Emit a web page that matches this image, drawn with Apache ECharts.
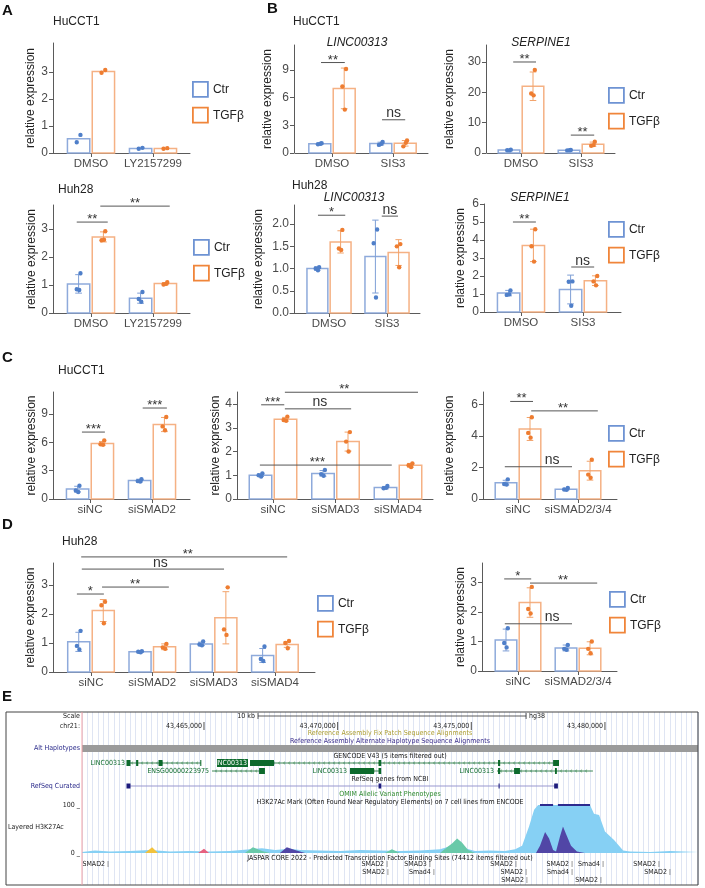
<!DOCTYPE html>
<html><head><meta charset="utf-8">
<script src="https://cdn.jsdelivr.net/npm/echarts@6/dist/echarts.min.js"></script>
<style>html,body{margin:0;padding:0;background:#fff}#c{width:705px;height:888px}</style>
</head><body><div id="c"></div><script>
// ================= DATA =================
// A – HuCCT1
const A1_cats = ['DMSO', 'LY2157299'];
const A1_ctr_mean = [0.53, 0.17];
const A1_ctr_sd = [0, 0];
const A1_ctr_pts = [[0.67, 0.40], [0.19, 0.16]];
const A1_tgf_mean = [3.02, 0.17];
const A1_tgf_sd = [0, 0];
const A1_tgf_pts = [[3.07, 2.97], [0.18, 0.16]];
const A1_ticks = [0, 1, 2, 3];
const A1_sig = [];
// A – Huh28
const A2_cats = ['DMSO', 'LY2157299'];
const A2_ctr_mean = [1.04, 0.53];
const A2_ctr_sd = [0.33, 0.18];
const A2_ctr_pts = [[1.42, 0.85, 0.82], [0.75, 0.50, 0.40]];
const A2_tgf_mean = [2.72, 1.05];
const A2_tgf_sd = [0.18, 0.04];
const A2_tgf_pts = [[2.92, 2.60, 2.62], [1.10, 1.02, 1.04]];
const A2_ticks = [0, 1, 2, 3];
const A2_sig = [[-0.23, 0.27, 3.25, '**'], [0.15, 1.27, 3.82, '**']];
// B – HuCCT1 LINC00313
const B1_cats = ['DMSO', 'SIS3'];
const B1_ctr_mean = [1.0, 1.02];
const B1_ctr_sd = [0.06, 0.15];
const B1_ctr_pts = [[1.05, 0.95, 1.0], [1.2, 0.88, 1.0]];
const B1_tgf_mean = [7.0, 1.05];
const B1_tgf_sd = [2.2, 0.3];
const B1_tgf_pts = [[9.1, 7.2, 4.7], [1.35, 0.72, 1.1]];
const B1_ticks = [0, 3, 6, 9];
const B1_sig = [[-0.18, 0.21, 9.8, '**'], [0.82, 1.2, 3.6, 'ns']];
// B – HuCCT1 SERPINE1
const B2_cats = ['DMSO', 'SIS3'];
const B2_ctr_mean = [0.95, 0.9];
const B2_ctr_sd = [0.15, 0.1];
const B2_ctr_pts = [[1.1, 0.9, 0.85], [1.0, 0.85, 0.9]];
const B2_tgf_mean = [22.0, 2.9];
const B2_tgf_sd = [4.7, 0.7];
const B2_tgf_pts = [[27.4, 19.6, 19.0], [3.7, 2.4, 2.6]];
const B2_ticks = [0, 10, 20, 30];
const B2_sig = [[-0.13, 0.25, 30, '**'], [0.83, 1.22, 5.9, '**']];
// B – Huh28 LINC00313
const B3_cats = ['DMSO', 'SIS3'];
const B3_ctr_mean = [1.0, 1.27];
const B3_ctr_sd = [0.04, 0.82];
const B3_ctr_pts = [[1.03, 1.0, 0.96], [1.88, 1.57, 0.35]];
const B3_tgf_mean = [1.6, 1.36];
const B3_tgf_sd = [0.25, 0.29];
const B3_tgf_pts = [[1.87, 1.45, 1.42], [1.55, 1.5, 1.03]];
const B3_ticks = [0, 0.5, 1, 1.5, 2];
const B3_sig = [[-0.19, 0.28, 2.2, '*'], [0.91, 1.19, 2.18, 'ns']];
// B – Huh28 SERPINE1
const B4_cats = ['DMSO', 'SIS3'];
const B4_ctr_mean = [1.05, 1.25];
const B4_ctr_sd = [0.15, 0.8];
const B4_ctr_pts = [[1.2, 0.95, 0.98], [1.7, 1.68, 0.35]];
const B4_tgf_mean = [3.7, 1.74];
const B4_tgf_sd = [0.9, 0.27];
const B4_tgf_pts = [[4.6, 3.65, 2.8], [2.0, 1.7, 1.48]];
const B4_ticks = [0, 1, 2, 3, 4, 5, 6];
const B4_sig = [[-0.13, 0.24, 5.0, '**'], [0.81, 1.18, 2.5, 'ns']];
// C – HuCCT1 siSMAD2
const C1_cats = ['siNC', 'siSMAD2'];
const C1_ctr_mean = [1.05, 1.95];
const C1_ctr_sd = [0.3, 0.15];
const C1_ctr_pts = [[1.4, 0.9, 0.75], [2.1, 1.9, 1.85]];
const C1_tgf_mean = [5.9, 7.9];
const C1_tgf_sd = [0.2, 0.75];
const C1_tgf_pts = [[6.2, 5.8, 5.75], [8.7, 7.7, 7.3]];
const C1_ticks = [0, 3, 6, 9];
const C1_sig = [[-0.13, 0.24, 7.1, '***'], [0.85, 1.24, 9.65, '***']];
// C – HuCCT1 siSMAD3 / siSMAD4
const C2_cats = ['siNC', 'siSMAD3', 'siSMAD4'];
const C2_ctr_mean = [1.0, 1.08, 0.48];
const C2_ctr_sd = [0.05, 0.12, 0.05];
const C2_ctr_pts = [[1.08, 1.0, 0.95], [1.22, 1.05, 0.98], [0.55, 0.45, 0.47]];
const C2_tgf_mean = [3.36, 2.42, 1.42];
const C2_tgf_sd = [0.08, 0.4, 0.08];
const C2_tgf_pts = [[3.47, 3.33, 3.3], [2.82, 2.42, 2.0], [1.5, 1.42, 1.35]];
const C2_ticks = [0, 1, 2, 3, 4];
const C2_sig = [[-0.19, 0.18, 3.97, '***'], [0.19, 2.32, 4.5, '**', 1.14], [0.19, 1.25, 3.8, 'ns', 0.75], [-0.21, 1.9, 1.43, '***', 0.71]];
// C – HuCCT1 siSMAD2/3/4
const C3_cats = ['siNC', 'siSMAD2/3/4'];
const C3_ctr_mean = [1.04, 0.62];
const C3_ctr_sd = [0.15, 0.06];
const C3_ctr_pts = [[1.25, 0.95, 0.92], [0.7, 0.6, 0.58]];
const C3_tgf_mean = [4.45, 1.8];
const C3_tgf_sd = [0.73, 0.6];
const C3_tgf_pts = [[5.2, 4.2, 3.9], [2.5, 1.55, 1.35]];
const C3_ticks = [0, 2, 4, 6];
const C3_sig = [[-0.13, 0.25, 6.2, '**'], [0.22, 1.33, 5.6, '**', 0.75], [-0.22, 0.9, 2.05, 'ns', 0.57]];
// D – Huh28 single siRNAs
const D1_cats = ['siNC', 'siSMAD2', 'siSMAD3', 'siSMAD4'];
const D1_ctr_mean = [1.04, 0.7, 0.97, 0.57];
const D1_ctr_sd = [0.33, 0.02, 0.06, 0.24];
const D1_ctr_pts = [[1.42, 0.9, 0.78], [0.72, 0.7, 0.68], [1.05, 0.95, 0.92], [0.88, 0.45, 0.38]];
const D1_tgf_mean = [2.12, 0.87, 1.87, 0.95];
const D1_tgf_sd = [0.38, 0.1, 0.9, 0.1];
const D1_tgf_pts = [[2.42, 2.3, 1.68], [0.97, 0.85, 0.8], [2.92, 1.47, 1.28], [1.07, 1.0, 0.82]];
const D1_ticks = [0, 1, 2, 3];
const D1_sig = [[-0.23, 0.21, 2.69, '*'], [0.18, 1.27, 2.93, '**', 0.72], [-0.15, 2.17, 3.55, 'ns', 1.13], [-0.16, 3.2, 3.97, '**', 1.58]];
// D – Huh28 siSMAD2/3/4
const D2_cats = ['siNC', 'siSMAD2/3/4'];
const D2_ctr_mean = [1.05, 0.78];
const D2_ctr_sd = [0.37, 0.1];
const D2_ctr_pts = [[1.45, 0.95, 0.8], [0.88, 0.75, 0.72]];
const D2_tgf_mean = [2.32, 0.77];
const D2_tgf_sd = [0.5, 0.22];
const D2_tgf_pts = [[2.85, 2.1, 1.95], [1.0, 0.75, 0.6]];
const D2_ticks = [0, 1, 2, 3];
const D2_sig = [[-0.23, 0.22, 3.12, '*'], [0.2, 1.32, 2.98, '**', 0.75], [-0.22, 0.9, 1.6, 'ns', 0.57]];

// E – genome browser (positions in kb after chr21:43,460,000)
const E_VIEW = [0.436, 23.481];
const E_POS_TICKS = [5, 10, 15, 20];
const E_POS_LABELS = ['43,465,000', '43,470,000', '43,475,000', '43,480,000'];
const E_SCALEBAR = [[7.02, 17.05]];
const E_GENES = [
  {name: 'LINC00313', row: 0, start: 2.157, end: 4.888, thick: null, exons: [[2.10, 2.25], [2.46, 2.54], [3.30, 3.45], [4.86, 4.90]], hl: false},
  {name: 'LINC00313', row: 0, start: 6.72, end: 18.17, thick: [6.72, 7.62], exons: [[11.53, 11.63], [16.00, 16.08], [18.06, 18.28]], hl: true},
  {name: 'ENSG00000223975', row: 1, start: 5.30, end: 7.17, thick: null, exons: [[7.06, 7.28]], hl: false},
  {name: 'LINC00313', row: 1, start: 10.46, end: 11.58, thick: [10.46, 11.36], exons: [[11.53, 11.63]], hl: false},
  {name: 'LINC00313', row: 1, start: 15.96, end: 19.55, thick: null, exons: [[16.00, 16.08], [16.60, 16.82], [18.13, 18.20]], hl: false}
];
const E_REFSEQ = [{start: 2.157, end: 18.17, exons: [[2.10, 2.25], [11.53, 11.63], [16.02, 16.06], [18.10, 18.24]]}];
const E_H3K_BLUE = [[0.436,2],[0.92,5],[1.48,3],[2.23,4],[2.98,6],[3.73,3],[4.48,4],[5.22,3],[5.97,4],[6.72,8],[7.17,10],[7.66,6],[8.22,9],[8.59,6],[9.34,5],[10.09,4],[10.84,6],[11.58,5],[12.33,4],[13.08,5],[13.83,8],[14.2,14],[14.47,18],[14.76,10],[15.14,4],[15.7,5],[16.26,4],[16.64,8],[16.9,15],[17.16,55],[17.35,90],[17.5,100],[18.1,100],[18.17,97],[18.24,100],[19.44,100],[19.59,82],[19.78,79],[20.0,45],[20.34,27],[20.68,5],[20.94,3],[21.69,2],[22.43,4],[23.48,2]];
const E_H3K_TEAL = [[0.436,0],[6.53,0],[6.83,12],[7.17,4],[7.47,0],[11.77,0],[12.03,8],[12.33,0],[13.83,0],[14.09,12],[14.28,20],[14.47,30],[14.65,22],[14.88,6],[15.14,0],[23.48,0]];
const E_H3K_PURPLE = [[0.436,0],[7.84,0],[8.1,12],[8.4,6],[8.78,0],[17.42,0],[17.57,15],[17.76,44],[17.91,30],[18.06,6],[18.17,3],[18.32,35],[18.43,55],[18.54,40],[18.73,15],[18.95,3],[19.25,0],[23.48,0]];
const E_H3K_YELLOW = [[0.436,0],[2.79,0],[3.06,12],[3.28,0],[23.48,0]];
const E_H3K_PINK = [[0.436,0],[4.78,0],[5.0,9],[5.19,0],[23.48,0]];
const E_H3K_SATURATED = [[17.57, 18.06], [18.24, 19.44]];
const E_JASPAR = [
  [1.41, 0, 'SMAD2'], [11.85, 0, 'SMAD2'], [13.45, 0, 'SMAD3'], [16.67, 0, 'SMAD2'], [18.77, 0, 'SMAD2'], [19.93, 0, 'Smad4'], [22.02, 0, 'SMAD2'],
  [11.88, 1, 'SMAD2'], [13.6, 1, 'Smad4'], [17.05, 1, 'SMAD2'], [18.77, 1, 'Smad4'], [22.43, 1, 'SMAD2'],
  [17.08, 2, 'SMAD2'], [19.85, 2, 'SMAD2']
];

// ================= STYLE / LAYOUT =================
const FONT = "'Liberation Sans', Arial, Helvetica, sans-serif";
const NARROW = "'Liberation Sans Narrow', 'DejaVu Sans Condensed', 'Liberation Sans', sans-serif";
const AXIS = '#5a5a5a', LABEL = '#4a4a4a';
const C_BAR = '#8eaadb', T_BAR = '#f5b184';
const C_DOT = '#4f7fc9', T_DOT = '#ee7d31';
const C_ERR = '#7f9fd6', T_ERR = '#f2a36b';
const C_LEG = '#6e93d3', T_LEG = '#f0853a';
const JIT = [0.03, -0.03, 0.01];

const LAYOUT = {
  A1: {x0: 50, x1: 190, c0: 91, band: 62, yx: 53, top: 43, y0: 153, ymax: 4.07, nameDist: 22},
  A2: {x0: 50, x1: 190, c0: 91, band: 62, yx: 53, top: 205, y0: 313, ymax: 3.86, nameDist: 21},
  B1: {x0: 295, x1: 428, c0: 332, band: 61, yx: 294, top: 45, y0: 153, ymax: 11.7, nameDist: 26.5},
  B2: {x0: 487, x1: 615, c0: 521, band: 60, yx: 486, top: 45, y0: 153, ymax: 35.6, nameDist: 36},
  B3: {x0: 290, x1: 420, c0: 329, band: 58, yx: 294, top: 205, y0: 313, ymax: 2.43, nameDist: 35},
  B4: {x0: 482, x1: 621, c0: 521, band: 62, yx: 484, top: 204, y0: 312, ymax: 6.0, nameDist: 23},
  C1: {x0: 50, x1: 190, c0: 90, band: 62, yx: 53, top: 392, y0: 499, ymax: 11.35, nameDist: 21.5},
  C2: {x0: 235, x1: 433, c0: 273, band: 62.5, yx: 237, top: 392, y0: 499, ymax: 4.51, nameDist: 21.5},
  C3: {x0: 482, x1: 617, c0: 518, band: 60, yx: 483, top: 392, y0: 499, ymax: 6.8, nameDist: 33},
  D1: {x0: 50, x1: 315, c0: 91, band: 61.3, yx: 53, top: 563, y0: 672, ymax: 3.76, nameDist: 22},
  D2: {x0: 482, x1: 617, c0: 518, band: 60, yx: 482, top: 563, y0: 671, ymax: 3.66, nameDist: 19.5}
};

const grids = [], xAxes = [], yAxes = [], series = [], legends = [], graphics = [];

function groupSeries(name, side, gi, cats, mean, sd, pts, barC, errC, dotC) {
  const data = cats.map((c, i) => {
    const p = pts[i].slice(); while (p.length < 3) p.push(null);
    return [i, mean[i], sd[i] || 0].concat(p);
  });
  return {
    type: 'custom', name: name, xAxisIndex: gi, yAxisIndex: gi, data: data, z: 3, silent: true,
    encode: {x: 0, y: 1},
    renderItem: function (params, api) {
      const i = api.value(0), m = api.value(1), s = api.value(2);
      const band = api.size([1, 0])[0];
      const base = api.coord([i, 0]), top = api.coord([i, m]);
      const cx = base[0] + side * 0.2 * band, w = 0.36 * band;
      const ch = [{type: 'rect', shape: {x: cx - w / 2, y: top[1], width: w, height: base[1] - top[1]},
        style: {fill: 'rgba(255,255,255,0)', stroke: barC, lineWidth: 1.5}}];
      if (s > 0) {
        const hi = api.coord([i, m + s])[1], lo = api.coord([i, Math.max(m - s, 0)])[1], cw = 0.055 * band;
        ch.push({type: 'line', shape: {x1: cx, y1: hi, x2: cx, y2: lo}, style: {stroke: errC, lineWidth: 1}});
        ch.push({type: 'line', shape: {x1: cx - cw, y1: hi, x2: cx + cw, y2: hi}, style: {stroke: errC, lineWidth: 1}});
        ch.push({type: 'line', shape: {x1: cx - cw, y1: lo, x2: cx + cw, y2: lo}, style: {stroke: errC, lineWidth: 1}});
      }
      for (let k = 0; k < 3; k++) {
        const v = api.value(3 + k);
        if (v === null || v === undefined || isNaN(v)) continue;
        const py = api.coord([i, v])[1];
        ch.push({type: 'circle', shape: {cx: cx + JIT[k] * band, cy: py, r: 2.2}, style: {fill: dotC}});
      }
      return {type: 'group', children: ch};
    }
  };
}

function sigSeries(gi, sig) {
  return {
    type: 'custom', xAxisIndex: gi, yAxisIndex: gi, z: 4, silent: true,
    data: sig.map(s => [s[0], s[1], s[2], s[4] != null ? s[4] : (s[0] + s[1]) / 2]),
    renderItem: function (params, api) {
      const lab = sig[params.dataIndex][3];
      const p1 = api.coord([api.value(0), api.value(2)]), p2 = api.coord([api.value(1), api.value(2)]);
      const tx = api.coord([api.value(3), api.value(2)])[0];
      const star = lab !== 'ns';
      const ty = star ? p1[1] - 2.6 : p1[1] - 6.3;
      return {type: 'group', children: [
        {type: 'line', shape: {x1: p1[0], y1: p1[1], x2: p2[0], y2: p1[1]}, style: {stroke: '#555', lineWidth: 1}},
        {type: 'text', style: {x: tx, y: ty, text: lab, align: 'center', textAlign: 'center', verticalAlign: 'middle', textVerticalAlign: 'middle',
          fontSize: star ? 13 : 14, fontFamily: FONT, fill: '#333'}}
      ]};
    }
  };
}

function addPanel(key, cats, cm, csd, cp, tm, tsd, tp, ticks, sig, fmt) {
  const L = LAYOUT[key];
  const gi = grids.length;
  const idx = cats.map((c, i) => i);
  grids.push({left: L.x0, top: L.top, width: L.x1 - L.x0, height: L.y0 - L.top});
  xAxes.push({gridIndex: gi, type: 'value', min: -(L.c0 - L.x0) / L.band, max: (L.x1 - L.c0) / L.band,
    splitLine: {show: false},
    axisLine: {show: true, onZero: false, lineStyle: {color: AXIS, width: 1}},
    axisTick: {show: true, customValues: idx, length: 4, lineStyle: {color: AXIS}},
    axisLabel: {show: true, customValues: idx, formatter: v => cats[Math.round(v)], fontSize: 11.5, color: LABEL, margin: 5, fontFamily: FONT}});
  yAxes.push({gridIndex: gi, type: 'value', min: 0, max: L.ymax, offset: L.x0 - L.yx,
    splitLine: {show: false},
    axisLine: {show: true, onZero: false, lineStyle: {color: AXIS, width: 1}},
    axisTick: {show: true, customValues: ticks, length: 4, lineStyle: {color: AXIS}},
    axisLabel: {show: true, customValues: ticks, formatter: fmt || (v => String(v)), fontSize: 12, color: LABEL, margin: 5, fontFamily: FONT},
    name: 'relative expression', nameLocation: 'middle', nameRotate: 90, nameGap: L.nameDist - 6,
    nameTextStyle: {fontSize: 12, color: '#222', fontFamily: FONT}});
  series.push(groupSeries('Ctr', -1, gi, cats, cm, csd, cp, C_BAR, C_ERR, C_DOT));
  series.push(groupSeries('TGFβ', 1, gi, cats, tm, tsd, tp, T_BAR, T_ERR, T_DOT));
  if (sig.length) series.push(sigSeries(gi, sig));
}

addPanel('A1', A1_cats, A1_ctr_mean, A1_ctr_sd, A1_ctr_pts, A1_tgf_mean, A1_tgf_sd, A1_tgf_pts, A1_ticks, A1_sig);
addPanel('A2', A2_cats, A2_ctr_mean, A2_ctr_sd, A2_ctr_pts, A2_tgf_mean, A2_tgf_sd, A2_tgf_pts, A2_ticks, A2_sig);
addPanel('B1', B1_cats, B1_ctr_mean, B1_ctr_sd, B1_ctr_pts, B1_tgf_mean, B1_tgf_sd, B1_tgf_pts, B1_ticks, B1_sig);
addPanel('B2', B2_cats, B2_ctr_mean, B2_ctr_sd, B2_ctr_pts, B2_tgf_mean, B2_tgf_sd, B2_tgf_pts, B2_ticks, B2_sig);
addPanel('B3', B3_cats, B3_ctr_mean, B3_ctr_sd, B3_ctr_pts, B3_tgf_mean, B3_tgf_sd, B3_tgf_pts, B3_ticks, B3_sig, v => v.toFixed(1));
addPanel('B4', B4_cats, B4_ctr_mean, B4_ctr_sd, B4_ctr_pts, B4_tgf_mean, B4_tgf_sd, B4_tgf_pts, B4_ticks, B4_sig);
addPanel('C1', C1_cats, C1_ctr_mean, C1_ctr_sd, C1_ctr_pts, C1_tgf_mean, C1_tgf_sd, C1_tgf_pts, C1_ticks, C1_sig);
addPanel('C2', C2_cats, C2_ctr_mean, C2_ctr_sd, C2_ctr_pts, C2_tgf_mean, C2_tgf_sd, C2_tgf_pts, C2_ticks, C2_sig);
addPanel('C3', C3_cats, C3_ctr_mean, C3_ctr_sd, C3_ctr_pts, C3_tgf_mean, C3_tgf_sd, C3_tgf_pts, C3_ticks, C3_sig);
addPanel('D1', D1_cats, D1_ctr_mean, D1_ctr_sd, D1_ctr_pts, D1_tgf_mean, D1_tgf_sd, D1_tgf_pts, D1_ticks, D1_sig);
addPanel('D2', D2_cats, D2_ctr_mean, D2_ctr_sd, D2_ctr_pts, D2_tgf_mean, D2_tgf_sd, D2_tgf_pts, D2_ticks, D2_sig);

// legends
[[192, 81], [193, 239], [608, 87], [608, 221], [608, 425], [317, 595], [609, 591]].forEach(p => {
  legends.push({left: p[0], top: p[1], orient: 'vertical', itemWidth: 15, itemHeight: 15, itemGap: 9, padding: 0,
    selectedMode: false, icon: 'rect', textStyle: {fontSize: 12, color: '#222', fontFamily: FONT},
    data: [{name: 'Ctr', icon: 'rect', itemStyle: {color: '#fff', borderColor: C_LEG, borderWidth: 1.8}},
           {name: 'TGFβ', icon: 'rect', itemStyle: {color: '#fff', borderColor: T_LEG, borderWidth: 1.8}}]});
});

// text helpers
function txt(x, y, text, o) {
  o = o || {};
  graphics.push({type: 'text', x: x, y: y, silent: true, z: 10, style: {text: text,
    fontSize: o.size || 12, fontFamily: o.family || FONT, fontWeight: o.weight || 'normal', fontStyle: o.style || 'normal',
    fill: o.color || '#222', align: o.align || 'left', textAlign: o.align || 'left', verticalAlign: 'middle', textVerticalAlign: 'middle'}});
}
// panel letters & titles
txt(2, 11, 'A', {size: 15, weight: 'bold', color: '#111'});
txt(267, 9, 'B', {size: 15, weight: 'bold', color: '#111'});
txt(2, 358, 'C', {size: 15, weight: 'bold', color: '#111'});
txt(2, 525, 'D', {size: 15, weight: 'bold', color: '#111'});
txt(2, 697, 'E', {size: 15, weight: 'bold', color: '#111'});
txt(53, 22, 'HuCCT1');
txt(58, 190, 'Huh28');
txt(293, 22, 'HuCCT1');
txt(292, 186, 'Huh28');
txt(357, 43, 'LINC00313', {style: 'italic', align: 'center'});
txt(541, 43, 'SERPINE1', {style: 'italic', align: 'center'});
txt(354, 198, 'LINC00313', {style: 'italic', align: 'center'});
txt(540, 198, 'SERPINE1', {style: 'italic', align: 'center'});
txt(58, 371, 'HuCCT1');
txt(62, 542, 'Huh28');

// ================= PANEL E =================
const EB = {left: 6, top: 712, right: 698, bottom: 885, data: 82};
const E_ROW = {scale: 716, coord: 726, fix: 733, alt: 741, altBar: [745, 752], gencode: 756, gene: [763, 771], ncbi: 779,
  refseq: 786, omim: 794, h3k: 802, sigTop: 805, sigBottom: 853, jas: 858, jasRows: [864, 872, 880]};
const gE = grids.length;
grids.push({left: EB.data, top: EB.top, width: EB.right - EB.data, height: EB.bottom - EB.top});
xAxes.push({gridIndex: gE, type: 'value', min: E_VIEW[0], max: E_VIEW[1], interval: 0.2,
  axisLine: {show: false}, axisTick: {show: false}, axisLabel: {show: false},
  splitLine: {show: true, lineStyle: {color: '#dfe5f3', width: 1}}});
yAxes.push({gridIndex: gE, type: 'value', min: 0, max: 1, show: false});
const gS = grids.length;
grids.push({left: EB.data, top: E_ROW.sigTop, width: EB.right - EB.data, height: E_ROW.sigBottom - E_ROW.sigTop});
xAxes.push({gridIndex: gS, type: 'value', min: E_VIEW[0], max: E_VIEW[1], show: false, splitLine: {show: false}});
yAxes.push({gridIndex: gS, type: 'value', min: 0, max: 100, show: false, splitLine: {show: false}});

const ES = {fontSize: 7, fontFamily: NARROW};
function eText(x, y, text, align, color) {
  return {type: 'text', style: {x: x, y: y, text: text, align: align, textAlign: align, verticalAlign: 'middle', textVerticalAlign: 'middle',
    fontSize: ES.fontSize, fontFamily: ES.fontFamily, fill: color || '#222'}};
}
// coordinate ticks
series.push({type: 'custom', xAxisIndex: gE, yAxisIndex: gE, silent: true, z: 5, data: E_POS_TICKS.map(v => [v]),
  renderItem: (params, api) => {
    const x = api.coord([api.value(0), 0])[0];
    return {type: 'group', children: [
      {type: 'line', shape: {x1: x, y1: E_ROW.coord - 4, x2: x, y2: E_ROW.coord + 4}, style: {stroke: '#222', lineWidth: 0.8}},
      eText(x - 2, E_ROW.coord, E_POS_LABELS[params.dataIndex], 'right')]};
  }});
// scale bar
series.push({type: 'custom', xAxisIndex: gE, yAxisIndex: gE, silent: true, z: 5, data: E_SCALEBAR,
  renderItem: (params, api) => {
    const a = api.coord([api.value(0), 0])[0], b = api.coord([api.value(1), 0])[0], y = E_ROW.scale;
    return {type: 'group', children: [
      {type: 'line', shape: {x1: a, y1: y, x2: b, y2: y}, style: {stroke: '#333', lineWidth: 0.8}},
      {type: 'line', shape: {x1: a, y1: y - 3, x2: a, y2: y + 3}, style: {stroke: '#333', lineWidth: 0.8}},
      {type: 'line', shape: {x1: b, y1: y - 3, x2: b, y2: y + 3}, style: {stroke: '#333', lineWidth: 0.8}},
      eText(a - 3, y, '10 kb', 'right'), eText(b + 3, y, 'hg38', 'left')]};
  }});
// alt haplotype bar
series.push({type: 'custom', xAxisIndex: gE, yAxisIndex: gE, silent: true, z: 5, data: [[E_VIEW[0], E_VIEW[1]]],
  renderItem: (params, api) => {
    const a = api.coord([api.value(0), 0])[0], b = api.coord([api.value(1), 0])[0];
    return {type: 'rect', shape: {x: a, y: E_ROW.altBar[0], width: b - a, height: E_ROW.altBar[1] - E_ROW.altBar[0]}, style: {fill: '#9b9b9b'}};
  }});
// genes
const GREEN = '#0d6a2c';
series.push({type: 'custom', xAxisIndex: gE, yAxisIndex: gE, silent: true, z: 5, data: E_GENES.map(g => [g.start, g.end]),
  renderItem: (params, api) => {
    const g = E_GENES[params.dataIndex];
    const y = E_ROW.gene[g.row];
    const X = v => api.coord([v, 0])[0];
    const xs = X(g.start), xe = X(g.end);
    const ch = [{type: 'line', shape: {x1: xs, y1: y, x2: xe, y2: y}, style: {stroke: GREEN, lineWidth: 0.8}}];
    for (let x = xs + 4; x < xe - 3; x += 5) {
      ch.push({type: 'polyline', shape: {points: [[x + 1.1, y - 1.4], [x - 0.5, y], [x + 1.1, y + 1.4]]}, style: {stroke: GREEN, lineWidth: 0.5, fill: 'none'}});
    }
    if (g.thick) ch.push({type: 'rect', shape: {x: X(g.thick[0]), y: y - 3, width: X(g.thick[1]) - X(g.thick[0]), height: 6}, style: {fill: GREEN}});
    g.exons.forEach(e => { const a = X(e[0]), b = X(e[1]); ch.push({type: 'rect', shape: {x: a, y: y - 3, width: Math.max(b - a, 1), height: 6}, style: {fill: GREEN}}); });
    if (g.hl) {
      ch.push({type: 'rect', shape: {x: xs - 33, y: y - 4, width: 31, height: 8}, style: {fill: GREEN}});
      ch.push(eText(xs - 3, y, g.name, 'right', '#ffffff'));
    } else {
      ch.push(eText(xs - 3, y, g.name, 'right', GREEN));
    }
    return {type: 'group', children: ch};
  }});
// refseq
series.push({type: 'custom', xAxisIndex: gE, yAxisIndex: gE, silent: true, z: 5, data: E_REFSEQ.map(g => [g.start, g.end]),
  renderItem: (params, api) => {
    const g = E_REFSEQ[params.dataIndex];
    const y = E_ROW.refseq, X = v => api.coord([v, 0])[0];
    const ch = [{type: 'line', shape: {x1: X(g.start), y1: y, x2: X(g.end), y2: y}, style: {stroke: '#9a98cf', lineWidth: 1.2}}];
    g.exons.forEach(e => { const a = X(e[0]), b = X(e[1]); ch.push({type: 'rect', shape: {x: a, y: y - 2.5, width: Math.max(b - a, 1), height: 5}, style: {fill: '#1d1b7c'}}); });
    return {type: 'group', children: ch};
  }});
// H3K27Ac layers
function layer(data, color, z) {
  return {type: 'line', xAxisIndex: gS, yAxisIndex: gS, data: data, showSymbol: false, symbol: 'none', silent: true, z: z,
    lineStyle: {width: 0}, areaStyle: {color: color, opacity: 1}};
}
series.push(layer(E_H3K_BLUE, '#86d0f4', 5));
series.push(layer(E_H3K_TEAL, '#69c9a9', 6));
series.push(layer(E_H3K_YELLOW, '#f2c23c', 6));
series.push(layer(E_H3K_PINK, '#e7617f', 6));
series.push(layer(E_H3K_PURPLE, '#5146a6', 7));
series.push({type: 'custom', xAxisIndex: gS, yAxisIndex: gS, silent: true, z: 8, data: E_H3K_SATURATED,
  renderItem: (params, api) => {
    const a = api.coord([api.value(0), 100]), b = api.coord([api.value(1), 100]);
    return {type: 'line', shape: {x1: a[0], y1: a[1], x2: b[0], y2: b[1]}, style: {stroke: '#2d2b8e', lineWidth: 2}};
  }});
// JASPAR
series.push({type: 'custom', xAxisIndex: gE, yAxisIndex: gE, silent: true, z: 5, data: E_JASPAR.map(s => [s[0], s[1]]),
  renderItem: (params, api) => {
    const s = E_JASPAR[params.dataIndex];
    const x = api.coord([api.value(0), 0])[0], y = E_ROW.jasRows[api.value(1)];
    return {type: 'group', children: [
      {type: 'line', shape: {x1: x, y1: y - 3, x2: x, y2: y + 3}, style: {stroke: '#555', lineWidth: 0.6}},
      eText(x - 3, y, s[2], 'right', '#222')]};
  }});

// E static texts & frame
function eg(x, y, text, align, color) {
  graphics.push({type: 'text', x: x, y: y, silent: true, z: 10, style: {text: text, fontSize: ES.fontSize, fontFamily: ES.fontFamily,
    fill: color || '#222', align: align, textAlign: align, verticalAlign: 'middle', textVerticalAlign: 'middle'}});
}
const ECX = (EB.data + EB.right) / 2;
eg(80, E_ROW.scale, 'Scale', 'right');
eg(80, E_ROW.coord, 'chr21:', 'right');
eg(ECX, E_ROW.fix, 'Reference Assembly Fix Patch Sequence Alignments', 'center', '#ad9f34');
eg(ECX, E_ROW.alt, 'Reference Assembly Alternate Haplotype Sequence Alignments', 'center', '#3b2e8c');
eg(80, E_ROW.altBar[0] + 3.5, 'Alt Haplotypes', 'right', '#2a2a8a');
eg(ECX, E_ROW.gencode, 'GENCODE V43 (5 items filtered out)', 'center', '#111');
eg(ECX, E_ROW.ncbi, 'RefSeq genes from NCBI', 'center', '#222');
eg(80, E_ROW.refseq, 'RefSeq Curated', 'right', '#2a2a8a');
eg(ECX, E_ROW.omim, 'OMIM Allelic Variant Phenotypes', 'center', '#2f8a2f');
eg(ECX, E_ROW.h3k, 'H3K27Ac Mark (Often Found Near Regulatory Elements) on 7 cell lines from ENCODE', 'center', '#111');
eg(80, E_ROW.sigTop, '100 _', 'right');
eg(8, 827, 'Layered H3K27Ac', 'left');
eg(80, E_ROW.sigBottom, '0 _', 'right');
eg(ECX, E_ROW.jas, 'JASPAR CORE 2022 - Predicted Transcription Factor Binding Sites (74412 items filtered out)', 'center', '#111');
graphics.push({type: 'rect', silent: true, z: 11, shape: {x: EB.left, y: EB.top, width: EB.right - EB.left, height: EB.bottom - EB.top},
  style: {fill: 'none', stroke: '#444', lineWidth: 1}});
graphics.push({type: 'line', silent: true, z: 11, shape: {x1: EB.data, y1: EB.top, x2: EB.data, y2: EB.bottom}, style: {stroke: '#f3a3a8', lineWidth: 1}});

const chart = echarts.init(document.getElementById('c'), null, {renderer: 'canvas', width: 705, height: 888});
chart.setOption({
  animation: false,
  backgroundColor: '#ffffff',
  grid: grids, xAxis: xAxes, yAxis: yAxes, series: series, legend: legends,
  graphic: {elements: graphics}
});
</script></body></html>
